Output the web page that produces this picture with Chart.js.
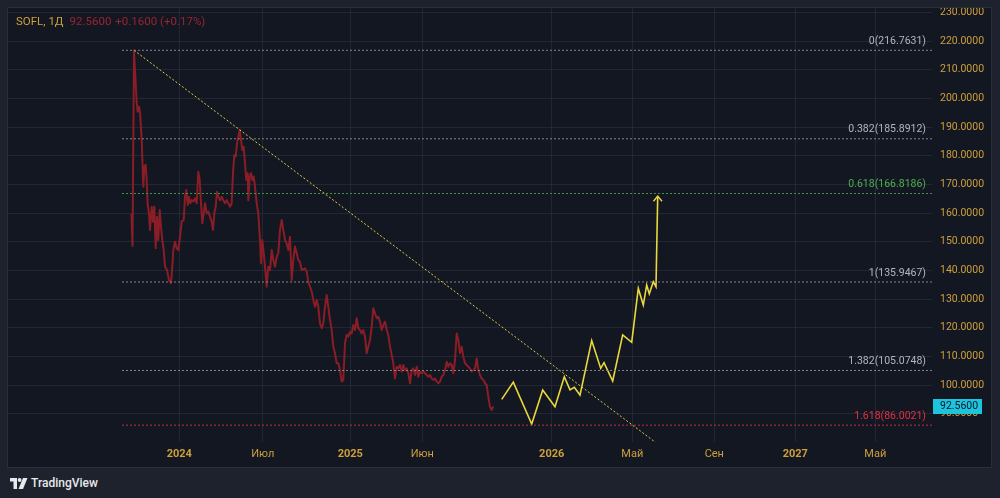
<!DOCTYPE html>
<html>
<head>
<meta charset="utf-8">
<script src="https://cdn.jsdelivr.net/npm/chart.js@4.4.1/dist/chart.umd.min.js"></script>
<style>
  html, body { margin: 0; padding: 0; width: 1000px; height: 498px; overflow: hidden; background: #1e222d; font-family: Roboto, "Noto Sans", sans-serif; }
  #panel { position: absolute; left: 8px; top: 8px; width: 983px; height: 459px; background: #131722; outline: 1px solid #2a2e39; }
  #chart { position: absolute; left: 0; top: 0; }
  #header { position: absolute; left: 16px; top: 14px; font-size: 11.5px; line-height: 14px; white-space: nowrap; }
  #header .sym { color: #cf9f3c; margin-right: 6px; }
  #header .val { color: #982530; margin-right: 4px; }
  #logo { position: absolute; left: 10px; top: 476px; height: 14px; display: flex; align-items: center; color: #e8e9ec; font-size: 12px; font-weight: 500; }
  #logo svg { margin-right: 3px; }
</style>
</head>
<body>
<div id="panel"><canvas id="chart" width="983" height="459"></canvas></div>
<div id="header"><span class="sym">SOFL, 1Д</span><span class="val">92.5600</span><span class="val">+0.1600 (+0.17%)</span></div>
<div id="logo">
  <svg width="18" height="11" viewBox="0 0 18 11"><path d="M0 0h7v11H3.5V3.5H0z" fill="#e8e9ec"/><circle cx="9.6" cy="2" r="1.9" fill="#e8e9ec"/><path d="M13 0h4.5L13 11H8.5z" fill="#e8e9ec"/></svg>
  <span>TradingView</span>
</div>
<script>
// время: условный индекс бара (позиция на временной шкале)
const timeTickPos = [179.3, 262.7, 350.3, 422.3, 551.7, 632.3, 714.3, 795.3, 875.3];
const timeTickLabels = ['2024', 'Июл', '2025', 'Июн', '2026', 'Май', 'Сен', '2027', 'Май'];
const priceTicks = [90, 100, 110, 120, 130, 140, 150, 160, 170, 180, 190, 200, 210, 220, 230];

// история цены SOFL (дневки)
const priceT = [131.5, 132.5, 134, 136.7, 137.7, 139, 140, 141.7, 143.3, 144.3, 145.7, 146.7, 147.7, 149, 150,
  151.7, 153, 154.3, 155.7, 157, 158.3, 159.7, 161, 162.3, 163.7, 165, 167, 169, 171, 172.3, 173.3, 175, 176.7,
  178.3, 180, 181.7, 183.7, 185, 186.3, 187.7, 189, 190.3, 191.7, 193.3, 195, 196.7, 198.3, 199.7, 201, 202.3,
  203.7, 205, 206.7, 208.3, 210, 211.7, 213, 214.3, 215.7, 217, 218.3, 220.3, 221.7, 223.3, 225, 226.7, 228.3,
  230, 231.7, 233, 234.3, 235.7, 237, 238.3, 239.7, 241, 242.3, 243.7, 245, 246.3, 247.7, 248.3, 249.7, 251,
  252.3, 253.7, 255, 256.7, 258.3, 260, 261, 262.3, 263.7, 265, 266.7, 268.3, 270, 271.7, 273.3, 275, 276.7,
  278.3, 280, 281.7, 283.3, 285, 286.7, 288.3, 290, 291.7, 293.3, 295, 296.7, 298.3, 300, 301.7, 305, 306.7,
  308.3, 310, 311.7, 313.3, 315, 316.7, 318.3, 320, 321.7, 323.3, 325, 326.7, 328.3, 330, 331.7, 333.3, 335,
  336.7, 338.3, 340, 341.7, 343.3, 345, 346.7, 348.3, 350, 351.7, 353.3, 355, 356.7, 358.3, 360, 361.7, 363.3,
  365, 366.7, 368.3, 370, 371.7, 373.3, 375, 376.7, 378.3, 380, 381.7, 383.3, 385, 386.7, 388.3, 390, 391.7,
  393.3, 395, 396.7, 398.3, 400, 401.7, 403.3, 405, 406.7, 408.3, 410, 411.7, 413.3, 415, 416.7, 418.3, 420,
  421.7, 423.3, 425, 426.7, 428.3, 430, 431.7, 433.3, 435, 436.7, 438.3, 440, 441.7, 443.3, 445, 446.7, 448.3,
  450, 451.7, 453.3, 455, 456.7, 458.3, 460, 461.7, 463.3, 465, 466.7, 468.3, 470, 471.7, 473.3, 475, 476.7,
  478.3, 480, 481.7, 483.3, 485, 486.7, 488.3, 490, 491.7, 493.3];
const priceV = [159.7, 148.5, 216.76, 198.4, 195.3, 197.1, 195.3, 185.5, 169.2, 176.2, 176.8, 171.5, 162.8, 159.9, 154.1,
  162.2, 157.0, 162.2, 147.7, 158.7, 150.6, 161.1, 155.2, 150.6, 147.1, 141.3, 140.1, 136.6, 135.5, 141.3, 147.1, 150.0, 147.7,
  147.1, 151.7, 157.0, 157.6, 165.7, 168.0, 162.8, 165.7, 163.4, 164.5, 164.0, 165.1, 163.4, 174.4, 171.5, 163.4, 156.4,
  159.9, 163.4, 159.9, 160.5, 158.7, 157.0, 154.1, 159.9, 162.2, 167.4, 165.7, 164.5, 165.7, 164.5, 163.4, 164.5, 163.4,
  162.2, 163.4, 173.9, 180.2, 179.7, 184.3, 186.6, 189.0, 185.5, 182.0, 183.1, 177.3, 171.5, 173.9, 164.5, 172.7, 173.9,
  171.5, 172.7, 169.2, 163.4, 159.9, 150.6, 142.5, 150.6, 146.0, 141.3, 134.3, 141.3, 140.1, 147.1, 143.6, 141.3, 144.8,
  146.0, 154.1, 157.6, 154.1, 150.6, 149.4, 147.1, 151.7, 136.6, 143.6, 148.3, 146.0, 143.6, 142.9, 140.1, 140.7, 139.5,
  136.0, 134.3, 132.6, 129.7, 127.3, 129.7, 127.3, 121.5, 119.8, 121.5, 127.3, 131.4, 127.3, 122.7, 119.2, 113.4, 111.1,
  107.6, 107.6, 105.2, 101.2, 101.8, 114.6, 117.5, 116.9, 118.6, 118.0, 120.9, 119.2, 123.3, 119.8, 119.2, 118.0, 119.2,
  116.9, 111.1, 113.4, 115.7, 120.3, 126.8, 125.0, 123.3, 123.8, 122.1, 119.2, 120.9, 122.1, 119.2, 117.5, 113.4, 110.5,
  107.6, 102.3, 106.4, 105.8, 107.0, 104.7, 107.0, 105.2, 105.8, 104.1, 100.6, 105.2, 105.8, 103.5, 106.4, 102.9, 104.7,
  104.1, 104.7, 104.1, 103.5, 102.9, 103.5, 102.3, 101.8, 102.3, 101.2, 100.6, 101.2, 102.9, 103.5, 105.2, 108.1, 106.4,
  107.6, 107.0, 104.1, 108.7, 118.0, 115.7, 111.1, 113.4, 109.9, 107.6, 107.0, 106.4, 105.8, 104.7, 105.2, 105.8, 109.3,
  105.2, 103.5, 102.3, 101.8, 100.6, 100.0, 95.9, 92.4, 91.3, 92.56];
const lastPrice = 92.56;

// нарисованный прогноз (жёлтая ломаная) и стрелка на конце
const forecastT = [501.7, 513.3, 531.7, 542.7, 555, 564.3, 570, 574.3, 580, 591.7, 600.7, 604, 612.7, 622.7, 631.7,
  638.3, 643.3, 646.7, 649.3, 653.3, 656, 657.7];
const forecastV = [95.0, 101.0, 86.4, 98.3, 92.4, 102.9, 98.3, 99.2, 96.5, 115.5, 105.8, 107.8, 101.4, 117.5, 114.9,
  133.7, 127.9, 134.9, 131.8, 136.0, 134.3, 165.9];
const arrowT = [653.5, 657.7, 662];
const arrowV = [164.1, 165.9, 164.1];

// трендовая линия (пунктир от максимума)
const trendT = [134, 680];
const trendV = [216.76, 73.57];

// уровни Фибоначчи
const fibRatios = ['0', '0.382', '0.618', '1', '1.382', '1.618'];
const fibPrices = [216.7631, 185.8912, 166.8186, 135.9467, 105.0748, 86.0021];
const fibColors = ['#80838c', '#80838c', '#3f9443', '#80838c', '#80838c', '#c22e3a'];
const fibTextColors = ['#b2b5be', '#b2b5be', '#4caf50', '#b2b5be', '#b2b5be', '#e0313f'];
const fibStart = 122;
const fibEnd = 932;

const gold = '#cf9f3c';
const gridColor = 'rgba(42, 46, 57, 0.75)';

function pairs(ts, vs) {
    return ts.map((t, i) => ({ x: t, y: vs[i] }));
}

const datasets = [];
fibPrices.forEach((p, i) => {
    datasets.push({
        data: [{ x: fibStart, y: p }, { x: fibEnd, y: p }],
        borderColor: fibColors[i],
        borderWidth: 1,
        borderDash: [2, 2],
        pointRadius: 0
    });
});
datasets.push({ data: pairs(trendT, trendV), borderColor: '#e2d03c', borderWidth: 1, borderDash: [2, 2], pointRadius: 0 });
datasets.push({ data: pairs(priceT, priceV), borderColor: '#8a1d25', borderWidth: 2, pointRadius: 0, borderJoinStyle: 'round' });
datasets.push({ data: pairs(forecastT, forecastV), borderColor: '#ead83c', borderWidth: 1.6, pointRadius: 0 });
datasets.push({ data: pairs(arrowT, arrowV), borderColor: '#ead83c', borderWidth: 1.4, pointRadius: 0 });

// подписи уровней Фибоначчи
const fibLabels = {
    id: 'fibLabels',
    afterDatasetsDraw(chart) {
        const { ctx, chartArea, scales } = chart;
        ctx.save();
        ctx.font = '10.5px Roboto, sans-serif';
        ctx.textAlign = 'right';
        ctx.textBaseline = 'middle';
        fibPrices.forEach((p, i) => {
            const y = scales.y.getPixelForValue(p);
            ctx.fillStyle = fibTextColors[i];
            ctx.fillText(fibRatios[i] + '(' + p.toFixed(4) + ')', chartArea.right - 6, y - 9);
        });
        ctx.restore();
    }
};

// метка последней цены на шкале
const priceTag = {
    id: 'priceTag',
    afterDraw(chart) {
        const { ctx, chartArea, scales } = chart;
        const y = scales.y.getPixelForValue(lastPrice);
        ctx.save();
        ctx.fillStyle = '#1cc4de';
        ctx.fillRect(chartArea.right + 1, Math.round(y) - 7, 49, 15);
        ctx.fillStyle = '#131722';
        ctx.font = '10.5px Roboto, sans-serif';
        ctx.textAlign = 'left';
        ctx.textBaseline = 'middle';
        ctx.fillText(lastPrice.toFixed(4), chartArea.right + 8, Math.round(y) + 0.5);
        ctx.restore();
    }
};

new Chart(document.getElementById('chart'), {
    type: 'line',
    data: { datasets },
    options: {
        responsive: false,
        animation: false,
        devicePixelRatio: 1,
        parsing: false,
        layout: { padding: 0 },
        plugins: { legend: { display: false }, tooltip: { enabled: false } },
        elements: { line: { tension: 0 } },
        scales: {
            x: {
                type: 'linear',
                position: 'bottom',
                min: 8,
                max: 932,
                afterBuildTicks: s => { s.ticks = timeTickPos.map(v => ({ value: v })); },
                afterFit: s => { s.height = 25; s.paddingLeft = 0; s.paddingRight = 0; },
                grid: { color: gridColor, drawTicks: false },
                border: { display: false },
                ticks: {
                    autoSkip: false,
                    maxRotation: 0,
                    padding: 6,
                    color: gold,
                    font: c => ({ family: 'Roboto, sans-serif', size: 11, weight: /^\d/.test(timeTickLabels[c.index] || '') ? 'bold' : 'normal' }),
                    callback: (v, i) => timeTickLabels[i]
                }
            },
            y: {
                type: 'linear',
                position: 'right',
                min: 80.13,
                max: 231.52,
                afterBuildTicks: s => { s.ticks = priceTicks.map(v => ({ value: v })); },
                afterFit: s => { s.width = 59; s.paddingTop = 0; s.paddingBottom = 0; },
                grid: { color: gridColor, drawTicks: false },
                border: { display: false },
                ticks: {
                    padding: 8,
                    color: gold,
                    font: { family: 'Roboto, sans-serif', size: 10.5 },
                    callback: v => Number(v).toFixed(4)
                }
            }
        }
    },
    plugins: [fibLabels, priceTag]
});
</script>
</body>
</html>
